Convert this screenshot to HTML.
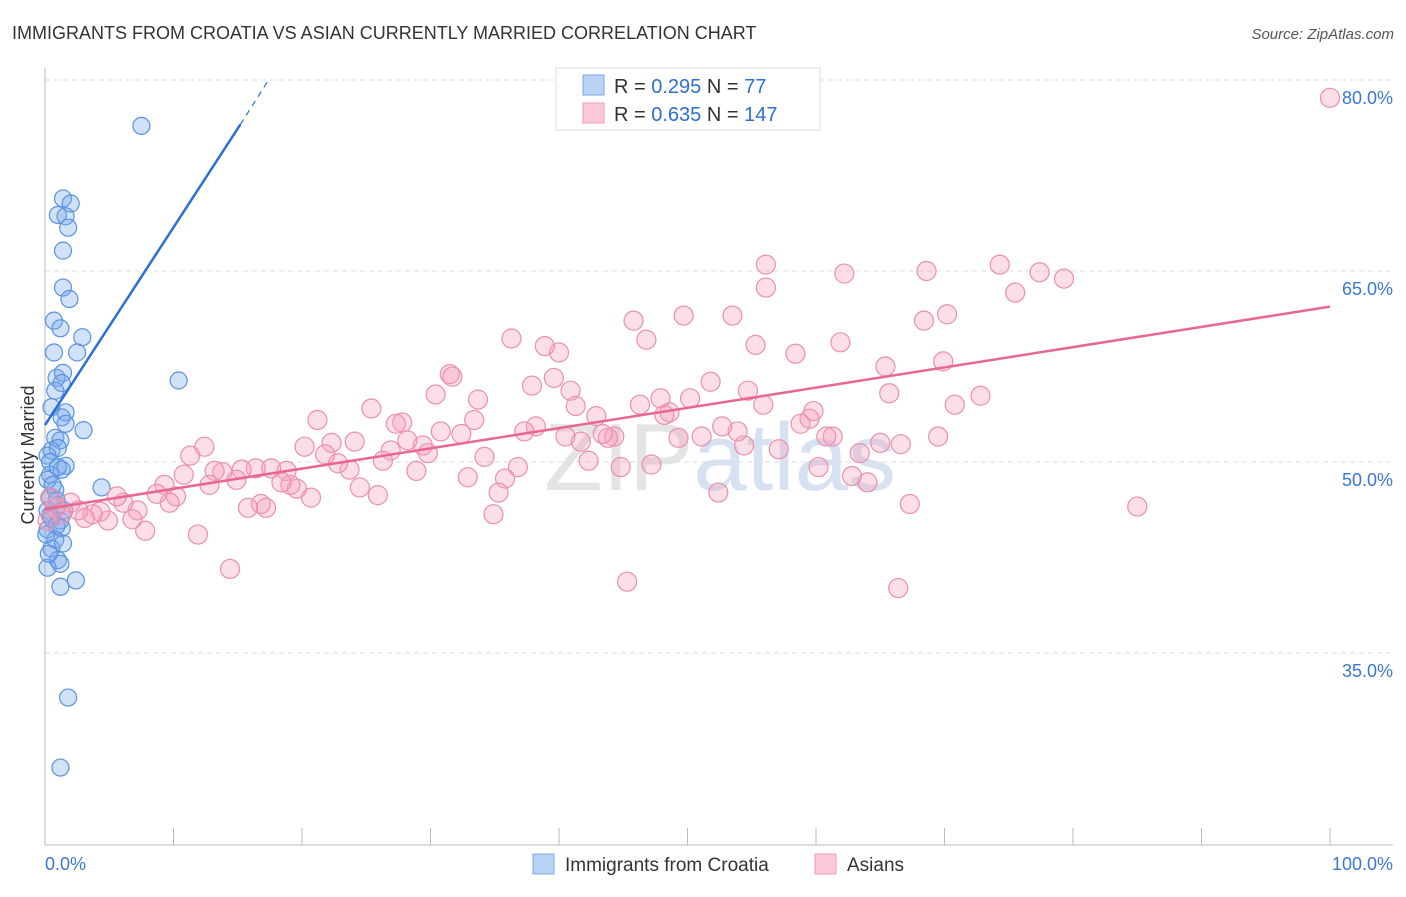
<!DOCTYPE html>
<html><head><meta charset="utf-8"><style>
body{margin:0;background:#fff;font-family:"Liberation Sans",sans-serif;}
svg text{font-family:"Liberation Sans",sans-serif;}
</style></head><body>
<svg id="chart" width="1406" height="892">
<text x="12" y="39" font-size="18" fill="#333">IMMIGRANTS FROM CROATIA VS ASIAN CURRENTLY MARRIED CORRELATION CHART</text>
<text x="1394" y="39" font-size="15" fill="#555" font-style="italic" text-anchor="end">Source: ZipAtlas.com</text>
<text x="720" y="490" font-size="96" fill="#e4e4e4" text-anchor="middle" font-family="Liberation Serif">ZIP<tspan fill="#d6e2f2" font-family="Liberation Sans">atlas</tspan></text>
<g id="grid"></g>
<g id="axes"></g>
<g id="pts"></g>
<g id="lines"></g>
<text transform="translate(34,455) rotate(-90)" font-size="18" fill="#333" text-anchor="middle">Currently Married</text>
<g>
<rect x="556" y="68" width="264" height="62" fill="#fff" stroke="#ddd"/>
<rect x="583" y="75" width="21" height="20" fill="#b9d3f5" stroke="#7aa6e6"/>
<rect x="583" y="103" width="21" height="20" fill="#fcc9d8" stroke="#f09ab5"/>
<text x="614" y="93" font-size="20" fill="#333">R = <tspan fill="#2f6fd3">0.295</tspan>   N =   <tspan fill="#2f6fd3">77</tspan></text>
<text x="614" y="121" font-size="20" fill="#333">R = <tspan fill="#2f6fd3">0.635</tspan>   N = <tspan fill="#2f6fd3">147</tspan></text>
</g>
<g>
<rect x="533" y="854" width="21" height="20" fill="#b9d3f5" stroke="#7aa6e6"/>
<text x="565" y="871" font-size="19" fill="#333">Immigrants from Croatia</text>
<rect x="815" y="854" width="21" height="20" fill="#fcc9d8" stroke="#f09ab5"/>
<text x="847" y="871" font-size="19" fill="#333">Asians</text>
</g>
</svg>
<script>
const yTicks=[80,65,50,35];
const yTickLabels=["80.0%","65.0%","50.0%","35.0%"];
const xTickLabels=["0.0%","100.0%"];
const blueX=[7.5,1.4,2.0,1.0,1.6,1.8,1.4,1.4,1.9,0.7,1.2,2.9,0.7,2.5,10.4,0.9,1.4,1.3,0.8,0.5,1.6,1.3,3.0,1.6,0.8,1.2,0.5,1.0,0.2,0.4,1.6,1.3,0.4,4.4,0.8,0.4,1.0,0.2,0.5,1.2,0.2,1.3,0.8,0.5,1.0,1.2,0.2,2.4,1.2,1.8,1.2,0.2,0.6,0.9,1.5,0.4,0.9,0.1,1.4,0.3,1.0];
const blueY=[76.4,70.7,70.3,69.4,69.3,68.4,66.6,63.7,62.8,61.1,60.5,59.8,58.6,58.6,56.4,56.6,57.0,56.2,55.6,54.3,53.9,53.5,52.5,53.0,51.9,51.7,50.9,51.1,50.5,50.0,49.7,49.4,49.0,48.0,47.8,47.2,46.6,46.2,45.6,45.4,44.7,44.8,43.9,43.2,42.3,42.0,41.7,40.7,40.2,31.5,26.0,48.6,48.2,47.0,46.2,45.8,45.0,44.3,43.6,42.8,49.6];
const pinkX=[100,85,79.3,77.4,75.5,74.3,72.8,70.8,70.2,69.9,69.5,68.6,68.4,67.3,66.4,66.6,65.7,65.4,65.0,64.0,63.4,62.8,61.9,62.2,61.3,60.8,60.2,59.8,59.5,58.8,58.4,57.1,56.1,56.1,55.9,54.7,54.4,53.9,53.5,55.3,52.7,52.4,51.8,51.1,50.2,49.7,49.3,48.6,48.2,47.9,47.2,46.8,46.3,45.8,45.3,44.8,44.3,43.8,43.4,42.9,42.3,41.7,41.3,40.5,40.9,40.0,39.6,38.9,38.2,37.9,37.3,36.8,36.3,35.8,35.3,34.9,34.2,33.7,32.9,33.4,32.4,31.5,31.7,30.8,30.4,29.8,29.4,28.9,28.2,27.8,27.3,26.9,26.3,25.9,25.4,24.5,24.1,23.7,22.8,22.3,21.8,21.2,20.7,20.2,19.6,19.1,18.8,18.4,17.6,17.2,16.8,16.4,15.8,15.3,14.9,14.4,13.8,13.2,12.8,12.4,11.9,11.3,10.8,10.2,9.7,9.3,8.7,7.8,7.2,6.8,6.1,5.6,4.9,4.3,3.7,3.1,2.6,2.0,1.3,0.8,0.4,0.2];
const pinkY=[78.6,46.5,64.4,64.9,63.3,65.5,55.2,54.5,61.6,57.9,52.0,65.0,61.1,46.7,40.1,51.4,55.4,57.5,51.5,48.4,50.7,48.9,59.4,64.8,52.0,52.0,49.6,54.0,53.4,53.0,58.5,51.0,63.7,65.5,54.5,55.6,51.3,52.4,61.5,59.2,52.8,47.6,56.3,52.0,55.0,61.5,51.9,53.9,53.7,55.0,49.8,59.6,54.5,61.1,40.6,49.6,52.0,51.9,52.2,53.6,50.1,51.6,54.4,52.0,55.6,58.6,56.6,59.1,52.8,56.0,52.4,49.6,59.7,48.7,47.6,45.9,50.4,54.9,48.8,53.3,52.2,56.9,56.7,52.4,55.3,50.7,51.3,49.3,51.7,53.1,53.0,50.9,50.1,47.4,54.2,48.0,51.6,49.4,49.9,51.5,50.6,53.3,47.2,51.2,47.9,48.2,49.3,48.4,49.5,46.4,46.7,49.5,46.4,49.4,48.6,41.6,49.2,49.3,48.2,51.2,44.3,50.5,49.0,47.3,46.8,48.2,47.5,44.6,46.2,45.5,46.8,47.3,45.4,46.1,45.9,45.6,46.2,46.8,45.9,46.4,47.2,45.4];
const blueTrend=[[0,52.9],[15.2,76.5],[17.4,80]];
const pinkTrend=[[0,46.3],[100,62.2]];
const sx=v=>45+v*12.85;
const sy=v=>80+(80-v)*12.733;
const NS="http://www.w3.org/2000/svg";
function mk(t,a,p){const e=document.createElementNS(NS,t);for(const k in a)e.setAttribute(k,a[k]);p.appendChild(e);return e;}
const grid=document.getElementById('grid'),axes=document.getElementById('axes'),pts=document.getElementById('pts'),lines=document.getElementById('lines');
yTicks.forEach((v,i)=>{
 const l=mk('line',{x1:45,x2:1393,y1:sy(v),y2:sy(v),stroke:'#ddd','stroke-dasharray':'5,4'},grid);
 
 
 const t=mk('text',{x:1393,y:sy(v)+24,'font-size':18,fill:'#3a78d6','text-anchor':'end'},axes);
 t.textContent=yTickLabels[i];
 
 
});
mk('line',{x1:45,x2:45,y1:68,y2:845,stroke:'#bbb'},axes);
mk('line',{x1:45,x2:1393,y1:845,y2:845,stroke:'#bbb'},axes);
for(let i=1;i<=10;i++){const tk=mk('line',{x1:sx(i*10),x2:sx(i*10),y1:828,y2:845,stroke:'#bbb'},axes);
 
 }
[[0,'start',45],[100,'end',1393]].forEach((d,i)=>{const t=mk('text',{x:d[2],y:870,'font-size':18,fill:'#3a78d6','text-anchor':d[1]},axes);t.textContent=xTickLabels[i];
 
 });
blueX.forEach((x,i)=>{const c=mk('circle',{cx:sx(x),cy:sy(blueY[i]),r:8.5,fill:'rgba(120,170,235,0.35)',stroke:'#5a92e0','stroke-width':1.2},pts);
 
 });
pinkX.forEach((x,i)=>{const c=mk('circle',{cx:sx(x),cy:sy(pinkY[i]),r:9.5,fill:'rgba(245,160,185,0.35)',stroke:'#eb8fae','stroke-width':1.2},pts);
 
 });
const b1=mk('line',{x1:sx(blueTrend[0][0]),y1:sy(blueTrend[0][1]),x2:sx(blueTrend[1][0]),y2:sy(blueTrend[1][1]),stroke:'#2b6fd6','stroke-width':2.5},lines);


const b2=mk('line',{x1:sx(blueTrend[1][0]),y1:sy(blueTrend[1][1]),x2:sx(blueTrend[2][0]),y2:sy(blueTrend[2][1]),stroke:'#2b6fd6','stroke-width':1.2,'stroke-dasharray':'6,5'},lines);


const p1=mk('line',{x1:sx(pinkTrend[0][0]),y1:sy(pinkTrend[0][1]),x2:sx(pinkTrend[1][0]),y2:sy(pinkTrend[1][1]),stroke:'#e8668f','stroke-width':2.5},lines);


</script>
</body></html>
